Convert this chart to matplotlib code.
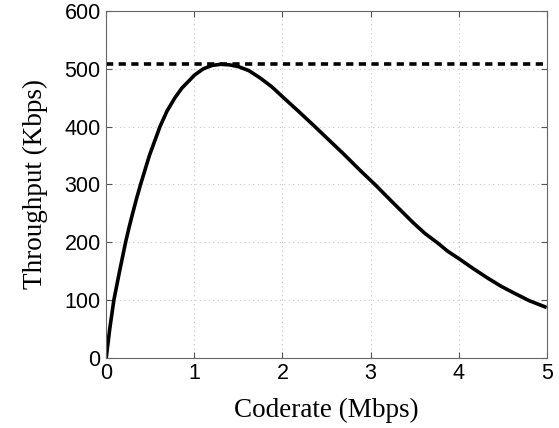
# throughput vs coderate, with the max throughput as a dashed line

import numpy as np
import matplotlib.pyplot as plt

# values
coderate = [0, 0.04, 0.087, 0.152, 0.22, 0.26, 0.30, 0.345, 0.39, 0.49, 0.61,
            0.69, 0.78, 0.86, 0.95, 1.0, 1.1, 1.2, 1.3, 1.4, 1.5, 1.62, 1.75,
            1.88, 2.0, 2.18, 2.37, 2.5, 2.7, 2.885, 3.05, 3.265, 3.49, 3.62,
            3.76, 3.88, 4.0, 4.17, 4.33, 4.48, 4.63, 4.8, 5.0]
throughput = [0, 50, 100, 150, 200, 226, 250, 276, 300, 350, 400,
              427, 450, 467, 481, 489, 500, 506, 508, 507, 504, 497, 484,
              469, 452, 427, 400, 381, 352, 324, 300, 267, 233, 215,
              199, 184, 172, 154, 138, 124, 112, 99, 87]
max_throughput = 508

xticks = [0, 1, 2, 3, 4, 5]
yticks = [0, 100, 200, 300, 400, 500, 600]

fig = plt.figure(figsize=(5.59, 4.28), dpi=100)
ax = fig.add_axes([0.19, 0.164, 0.788, 0.81])

ax.plot(coderate, throughput, color='black', linewidth=2.6,
        solid_joinstyle='round', solid_capstyle='butt')
ax.axhline(max_throughput, color='black', linewidth=2.6, linestyle=(0, (2, 1.5)))

ax.set_xlim(0, 5)
ax.set_ylim(0, 600)
ax.set_xticks(xticks)
ax.set_yticks(yticks)

ax.grid(True, color='#c8c8c8', linestyle=(0, (1, 3)), linewidth=0.8)
ax.tick_params(direction='in', top=True, right=True, length=4, color='#555555',
               labelsize=15.5, pad=4)
for lab in ax.get_xticklabels() + ax.get_yticklabels():
    lab.set_fontfamily('Liberation Sans')
for s in ax.spines.values():
    s.set_color('#666666')
    s.set_linewidth(0.8)

ax.set_xlabel('Coderate (Mbps)', fontsize=19.5, family='Liberation Serif', labelpad=10)
ax.set_ylabel('Throughput (Kbps)', fontsize=19.5, family='Liberation Serif', labelpad=12)

fig.savefig('out.png', dpi=100)
